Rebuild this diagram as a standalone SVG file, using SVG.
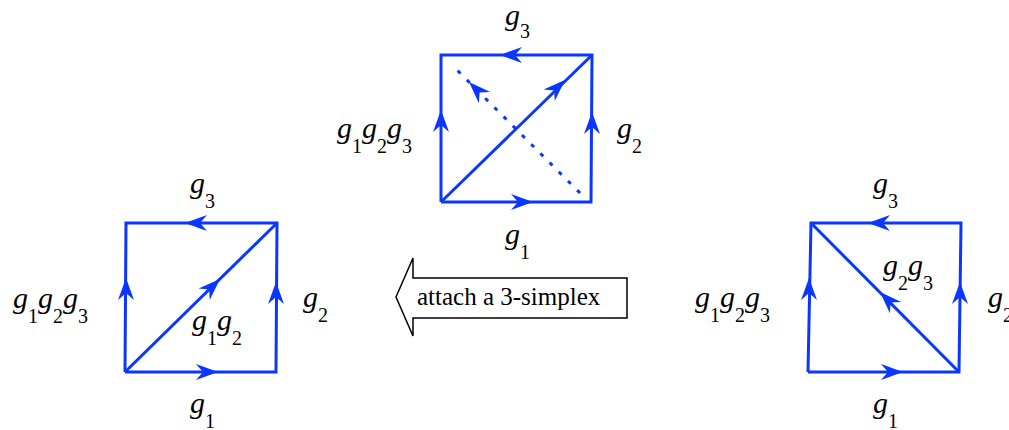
<svg xmlns="http://www.w3.org/2000/svg" width="1009" height="430" viewBox="0 0 1009 430">
<style>
.e{fill:none;stroke:#0a36ff;stroke-width:3}
.m{font:italic 30px 'Liberation Serif',serif;fill:#000}
.s{font:normal 20px 'Liberation Serif',serif}
.t{font:normal 25px 'Liberation Serif',serif;fill:#000}
</style>
<defs>
<path id="ah" d="M0,0 L-22,-8 L-15,0 L-22,8 Z" fill="#0a36ff"/>
</defs>
<g id="connectors">
<g id="attach-arrow">
<polygon points="396,297 413,258 413,278 627,278 627,318 413,318 413,336" fill="#fff" stroke="#000" stroke-width="1.5"/>
<text class="t" x="417" y="305" style="font:normal 25px 'Liberation Serif',serif">attach a 3-simplex</text>
</g>
</g>
<g id="top-complex">
<polyline class="e" points="441,202 591,202 592,55 441,55 441,202"/>
<line class="e" x1="441" y1="202" x2="592" y2="55"/>
<line class="e" x1="580" y1="193" x2="452" y2="65" stroke-dasharray="4 9"/>
<use href="#ah" transform="translate(500,55) rotate(180)"/>
<use href="#ah" transform="translate(441,110) rotate(-90)"/>
<use href="#ah" transform="translate(592,112) rotate(-90)"/>
<use href="#ah" transform="translate(533,202)"/>
<use href="#ah" transform="translate(565,80) rotate(-44)"/>
<use href="#ah" transform="translate(469,82) rotate(-135)"/>
<text class="m" style="font:italic 30px 'Liberation Serif',serif" x="505" y="25">g<tspan class="s" style="font:normal 20px 'Liberation Serif',serif" dy="13">3</tspan></text>
<text class="m" style="font:italic 30px 'Liberation Serif',serif" x="505" y="244">g<tspan class="s" style="font:normal 20px 'Liberation Serif',serif" dy="15">1</tspan></text>
<text class="m" style="font:italic 30px 'Liberation Serif',serif" x="617" y="138">g<tspan class="s" style="font:normal 20px 'Liberation Serif',serif" dy="15">2</tspan></text>
<text class="m" style="font:italic 30px 'Liberation Serif',serif" x="337" y="138">g<tspan class="s" style="font:normal 20px 'Liberation Serif',serif" dy="15">1</tspan><tspan dy="-15">g</tspan><tspan class="s" style="font:normal 20px 'Liberation Serif',serif" dy="15">2</tspan><tspan dy="-15">g</tspan><tspan class="s" style="font:normal 20px 'Liberation Serif',serif" dy="15">3</tspan></text>
</g>
<g id="left-complex">
<polyline class="e" points="125,372 276,372 277,223 126,223 125,372"/>
<line class="e" x1="125" y1="372" x2="277" y2="223"/>
<use href="#ah" transform="translate(185,223) rotate(180)"/>
<use href="#ah" transform="translate(126,278) rotate(-90)"/>
<use href="#ah" transform="translate(276,282) rotate(-90)"/>
<use href="#ah" transform="translate(218,372)"/>
<use href="#ah" transform="translate(220,279) rotate(-44)"/>
<text class="m" style="font:italic 30px 'Liberation Serif',serif" x="190" y="193">g<tspan class="s" style="font:normal 20px 'Liberation Serif',serif" dy="15">3</tspan></text>
<text class="m" style="font:italic 30px 'Liberation Serif',serif" x="13" y="308">g<tspan class="s" style="font:normal 20px 'Liberation Serif',serif" dy="15">1</tspan><tspan dy="-15">g</tspan><tspan class="s" style="font:normal 20px 'Liberation Serif',serif" dy="15">2</tspan><tspan dy="-15">g</tspan><tspan class="s" style="font:normal 20px 'Liberation Serif',serif" dy="15">3</tspan></text>
<text class="m" style="font:italic 30px 'Liberation Serif',serif" x="303" y="307">g<tspan class="s" style="font:normal 20px 'Liberation Serif',serif" dy="15">2</tspan></text>
<text class="m" style="font:italic 30px 'Liberation Serif',serif" x="192" y="330">g<tspan class="s" style="font:normal 20px 'Liberation Serif',serif" dy="15">1</tspan><tspan dy="-15">g</tspan><tspan class="s" style="font:normal 20px 'Liberation Serif',serif" dy="15">2</tspan></text>
<text class="m" style="font:italic 30px 'Liberation Serif',serif" x="190" y="413">g<tspan class="s" style="font:normal 20px 'Liberation Serif',serif" dy="15">1</tspan></text>
</g>
<g id="right-complex">
<polyline class="e" points="808,372 959,372 961,223 811,223 808,372"/>
<line class="e" x1="959" y1="372" x2="811" y2="223"/>
<use href="#ah" transform="translate(868,223) rotate(180)"/>
<use href="#ah" transform="translate(809,278) rotate(-90)"/>
<use href="#ah" transform="translate(960,282) rotate(-90)"/>
<use href="#ah" transform="translate(903,372)"/>
<use href="#ah" transform="translate(880,292) rotate(-135)"/>
<text class="m" style="font:italic 30px 'Liberation Serif',serif" x="873" y="193">g<tspan class="s" style="font:normal 20px 'Liberation Serif',serif" dy="15">3</tspan></text>
<text class="m" style="font:italic 30px 'Liberation Serif',serif" x="695" y="307">g<tspan class="s" style="font:normal 20px 'Liberation Serif',serif" dy="15">1</tspan><tspan dy="-15">g</tspan><tspan class="s" style="font:normal 20px 'Liberation Serif',serif" dy="15">2</tspan><tspan dy="-15">g</tspan><tspan class="s" style="font:normal 20px 'Liberation Serif',serif" dy="15">3</tspan></text>
<text class="m" style="font:italic 30px 'Liberation Serif',serif" x="988" y="307">g<tspan class="s" style="font:normal 20px 'Liberation Serif',serif" dy="15">2</tspan></text>
<text class="m" style="font:italic 30px 'Liberation Serif',serif" x="883" y="275">g<tspan class="s" style="font:normal 20px 'Liberation Serif',serif" dy="15">2</tspan><tspan dy="-15">g</tspan><tspan class="s" style="font:normal 20px 'Liberation Serif',serif" dy="15">3</tspan></text>
<text class="m" style="font:italic 30px 'Liberation Serif',serif" x="873" y="413">g<tspan class="s" style="font:normal 20px 'Liberation Serif',serif" dy="15">1</tspan></text>
</g>
</svg>
